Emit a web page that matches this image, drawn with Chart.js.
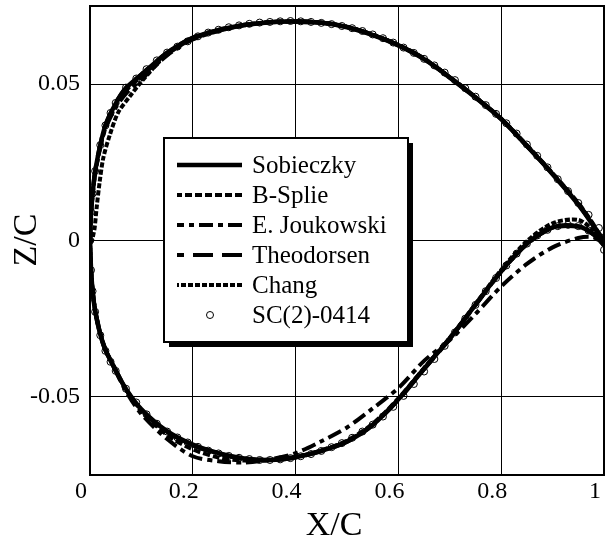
<!DOCTYPE html>
<html>
<head>
<meta charset="utf-8">
<script src="https://cdn.jsdelivr.net/npm/chart.js@4/dist/chart.umd.min.js"></script>
<style>
  body { margin: 0; background: #fff; }
  #box { width: 614px; height: 546px; }
</style>
</head>
<body>
<div id="box"><canvas id="perfil" width="614" height="546"></canvas></div>
<script>
// Estações em X/C (extradorso do bordo de fuga ao de ataque, intradorso no sentido inverso)
const stationsUpper = [1, 0.98, 0.95, 0.9, 0.85, 0.8, 0.75, 0.7, 0.65, 0.6, 0.55, 0.5, 0.45, 0.4, 0.35, 0.3, 0.25, 0.2, 0.15, 0.1, 0.07, 0.05, 0.03, 0.02, 0.01, 0.005, 0.002, 0];
const stationsLower = [0, 0.002, 0.005, 0.01, 0.02, 0.03, 0.05, 0.07, 0.1, 0.15, 0.2, 0.25, 0.3, 0.35, 0.4, 0.45, 0.5, 0.55, 0.6, 0.65, 0.7, 0.75, 0.8, 0.85, 0.9, 0.95, 0.98, 1];
const changStationsUpper = [1, 0.98, 0.95, 0.9, 0.85, 0.8, 0.75, 0.7, 0.65, 0.6, 0.55, 0.5, 0.45, 0.4, 0.35, 0.3, 0.25, 0.2, 0.15, 0.1, 0.078, 0.055, 0.039, 0.026, 0.019, 0.013, 0.009, 0.006, 0.004];

// Z/C de cada método
const sobieczkyUpper = [-0.001, 0.0045, 0.0115, 0.0212, 0.0302, 0.0388, 0.0457, 0.0521, 0.0580, 0.0624, 0.0657, 0.0682, 0.0696, 0.0700, 0.0698, 0.0689, 0.0673, 0.0648, 0.0600, 0.0530, 0.0487, 0.0438, 0.0368, 0.0305, 0.0220, 0.0148, 0.0088, 0];
const sobieczkyLower = [0, -0.009, -0.016, -0.0225, -0.030, -0.035, -0.0415, -0.0475, -0.0540, -0.0610, -0.0653, -0.0680, -0.0697, -0.0702, -0.0693, -0.0673, -0.0643, -0.0590, -0.0508, -0.0410, -0.0313, -0.0205, -0.0098, -0.0010, 0.0042, 0.0045, 0.0020, -0.0015];

const bSplieUpper = [-0.001, 0.005, 0.012, 0.0215, 0.0305, 0.039, 0.0459, 0.0523, 0.0581, 0.0625, 0.0658, 0.0683, 0.0697, 0.0701, 0.0698, 0.0688, 0.0671, 0.0645, 0.0596, 0.0525, 0.0480, 0.0432, 0.0360, 0.0298, 0.0212, 0.0142, 0.0082, 0];
const bSplieLower = [0, -0.0088, -0.0158, -0.0222, -0.0297, -0.0348, -0.0414, -0.0476, -0.0545, -0.0622, -0.0668, -0.0694, -0.0704, -0.0703, -0.0692, -0.0671, -0.0640, -0.0586, -0.0505, -0.0408, -0.0312, -0.0206, -0.0100, -0.0012, 0.0041, 0.0046, 0.0022, -0.0015];

const joukowskiUpper = [0, 0.0048, 0.0118, 0.0214, 0.0303, 0.0389, 0.0458, 0.0522, 0.0582, 0.0626, 0.0659, 0.0684, 0.0697, 0.0701, 0.0698, 0.0688, 0.0670, 0.0643, 0.0592, 0.0515, 0.0470, 0.0425, 0.0358, 0.0300, 0.0215, 0.0145, 0.0085, 0];
const joukowskiLower = [0, -0.0085, -0.0155, -0.022, -0.0295, -0.0347, -0.0418, -0.0482, -0.0555, -0.0635, -0.0690, -0.0706, -0.0710, -0.0700, -0.0680, -0.0642, -0.0598, -0.0537, -0.0472, -0.0385, -0.0318, -0.0235, -0.0147, -0.0075, -0.0022, 0.0008, 0.0010, -0.0015];

const theodorsenUpper = [-0.0005, 0.0046, 0.0116, 0.0213, 0.0303, 0.0389, 0.0458, 0.0522, 0.0581, 0.0625, 0.0658, 0.0683, 0.0697, 0.0701, 0.0699, 0.0690, 0.0674, 0.0649, 0.0601, 0.0532, 0.0489, 0.0440, 0.0370, 0.0308, 0.0224, 0.0152, 0.0090, 0];
const theodorsenLower = [0, -0.0092, -0.0162, -0.0227, -0.0302, -0.0352, -0.0417, -0.0477, -0.0542, -0.0612, -0.0655, -0.0682, -0.0699, -0.0703, -0.0694, -0.0674, -0.0644, -0.0591, -0.0510, -0.0412, -0.0315, -0.0207, -0.0100, -0.0012, 0.0040, 0.0044, 0.0018, -0.0015];

const changUpper = [-0.0005, 0.0047, 0.0117, 0.0213, 0.0302, 0.0388, 0.0457, 0.0521, 0.0580, 0.0624, 0.0658, 0.0683, 0.0697, 0.0700, 0.0698, 0.0689, 0.0672, 0.0646, 0.0596, 0.0508, 0.0462, 0.0410, 0.0340, 0.0265, 0.0190, 0.0106, 0.0040, 0.0015, 0];
const changLower = [0, -0.009, -0.0158, -0.0224, -0.0299, -0.0349, -0.0415, -0.0476, -0.0541, -0.0611, -0.0654, -0.0681, -0.0697, -0.0701, -0.0692, -0.0672, -0.0642, -0.0589, -0.0507, -0.0409, -0.0311, -0.0203, -0.0094, -0.0002, 0.0055, 0.0066, 0.0030, -0.0015];

// Pontos medidos do SC(2)-0414
const scX = [0, 0.002, 0.005, 0.01, 0.02, 0.03, 0.04, 0.05, 0.07, 0.09, 0.11, 0.13, 0.15, 0.17, 0.19, 0.21, 0.23, 0.25, 0.27, 0.29, 0.31, 0.33, 0.35, 0.37, 0.39, 0.41, 0.43, 0.45, 0.47, 0.49, 0.51, 0.53, 0.55, 0.57, 0.59, 0.61, 0.63, 0.65, 0.67, 0.69, 0.71, 0.73, 0.75, 0.77, 0.79, 0.81, 0.83, 0.85, 0.87, 0.89, 0.91, 0.93, 0.95, 0.97, 0.99, 1.0];
const scUpper = [0, 0.0092, 0.0150, 0.0222, 0.0305, 0.0368, 0.0408, 0.0440, 0.0489, 0.0518, 0.0548, 0.0576, 0.0601, 0.0620, 0.0637, 0.0653, 0.0665, 0.0674, 0.0682, 0.0688, 0.0693, 0.0697, 0.0699, 0.0701, 0.0702, 0.0701, 0.0699, 0.0696, 0.0692, 0.0686, 0.0679, 0.0670, 0.0659, 0.0647, 0.0633, 0.0617, 0.0600, 0.0581, 0.0560, 0.0537, 0.0513, 0.0487, 0.0460, 0.0433, 0.0405, 0.0375, 0.0342, 0.0307, 0.0271, 0.0234, 0.0196, 0.0158, 0.0120, 0.0082, 0.0040, 0.0010];
const scLower = [0, -0.0095, -0.0162, -0.0228, -0.0303, -0.0353, -0.0388, -0.0417, -0.0474, -0.0518, -0.0556, -0.0586, -0.0611, -0.0630, -0.0646, -0.0660, -0.0672, -0.0681, -0.0689, -0.0695, -0.0699, -0.0702, -0.0702, -0.0700, -0.0696, -0.0690, -0.0683, -0.0673, -0.0661, -0.0648, -0.0631, -0.0611, -0.0589, -0.0563, -0.0532, -0.0497, -0.0459, -0.0419, -0.0379, -0.0337, -0.0294, -0.0250, -0.0206, -0.0162, -0.0120, -0.0080, -0.0042, -0.0010, 0.0016, 0.0034, 0.0046, 0.0050, 0.0046, 0.0032, 0.0008, -0.0030];

const xTicks = [0, 0.2, 0.4, 0.6, 0.8, 1];
const yTicks = [-0.05, 0, 0.05];
const xTitle = 'X/C';
const yTitle = 'Z/C';

const fonte = 'Liberation Serif, Times New Roman, serif';

// Monta o contorno: extradorso e depois intradorso
function contorno(xu, yu, xl, yl) {
  const pts = xu.map((x, i) => ({ x: x, y: yu[i] }));
  return pts.concat(xl.map((x, i) => ({ x: x, y: yl[i] })));
}

function linha(label, data, dash, largura) {
  return {
    label: label,
    data: data,
    showLine: true,
    borderColor: '#000',
    backgroundColor: '#000',
    borderWidth: largura,
    borderDash: dash,
    pointRadius: 0,
    tension: 0.3,
  };
}

const datasets = [
  linha('Sobieczky', contorno(stationsUpper, sobieczkyUpper, stationsLower, sobieczkyLower), [], 4.5),
  linha('B-Splie', contorno(stationsUpper, bSplieUpper, stationsLower, bSplieLower), [7, 3], 4),
  linha('E. Joukowski', contorno(stationsUpper, joukowskiUpper, stationsLower, joukowskiLower), [14, 5, 5, 5], 4),
  linha('Theodorsen', contorno(stationsUpper, theodorsenUpper, stationsLower, theodorsenLower), [20, 9], 4),
  linha('Chang', contorno(changStationsUpper, changUpper, stationsLower, changLower), [5, 2], 4),
  {
    label: 'SC(2)-0414',
    data: contorno(scX, scUpper, scX, scLower),
    showLine: false,
    borderColor: '#000',
    backgroundColor: 'rgba(0,0,0,0)',
    borderWidth: 1,
    pointRadius: 3.5,
    pointStyle: 'circle',
  },
];

// Moldura, títulos dos eixos e legenda com sombra
const moldura = {
  id: 'moldura',
  afterDatasetsDraw(chart) {
    const ctx = chart.ctx;
    const a = chart.chartArea;
    ctx.save();

    ctx.strokeStyle = '#000';
    ctx.lineWidth = 2;
    ctx.strokeRect(a.left, a.top, a.right - a.left, a.bottom - a.top);

    // legenda
    const L = 164, T = 138, W = 244, H = 204;
    ctx.fillStyle = '#000';
    ctx.fillRect(L + 5, T + 5, W, H);
    ctx.fillStyle = '#fff';
    ctx.fillRect(L, T, W, H);
    ctx.lineWidth = 2;
    ctx.strokeRect(L, T, W, H);

    ctx.font = '25px ' + fonte;
    ctx.textBaseline = 'middle';
    ctx.textAlign = 'left';
    chart.data.datasets.forEach((ds, i) => {
      const y = 165 + i * 30;
      ctx.strokeStyle = '#000';
      if (ds.showLine) {
        ctx.lineWidth = ds.borderWidth;
        ctx.setLineDash(ds.borderDash);
        ctx.beginPath();
        ctx.moveTo(242, y);
        ctx.lineTo(177, y);
        ctx.stroke();
        ctx.setLineDash([]);
      } else {
        ctx.lineWidth = 1;
        ctx.beginPath();
        ctx.arc(210, y, 3.5, 0, Math.PI * 2);
        ctx.stroke();
      }
      ctx.fillStyle = '#000';
      ctx.fillText(ds.label, 252, y + 1);
    });

    // títulos
    ctx.font = '34px ' + fonte;
    ctx.textAlign = 'center';
    ctx.fillText(xTitle, 334, 526);
    ctx.translate(27, 240);
    ctx.rotate(-Math.PI / 2);
    ctx.fillText(yTitle, 0, 0);
    ctx.restore();
  }
};

const ctx = document.getElementById('perfil').getContext('2d');
new Chart(ctx, {
  type: 'scatter',
  data: { datasets: datasets },
  options: {
    responsive: false,
    animation: false,
    layout: { padding: { left: 0, right: 10, top: 6, bottom: 0 } },
    plugins: { legend: { display: false }, tooltip: { enabled: false } },
    scales: {
      x: {
        type: 'linear',
        min: 0,
        max: 1,
        afterBuildTicks: (s) => { s.ticks = xTicks.map(v => ({ value: v })); },
        afterFit: (s) => { s.height = 71; s.paddingLeft = 0; s.paddingRight = 0; },
        grid: { color: '#000', lineWidth: 1, drawTicks: false },
        border: { display: false },
        ticks: {
          color: '#000',
          font: { family: fonte, size: 24 },
          padding: 2,
          labelOffset: -9,
          maxRotation: 0,
          callback: (v) => String(v),
        },
      },
      y: {
        type: 'linear',
        min: -0.075,
        max: 0.075,
        afterBuildTicks: (s) => { s.ticks = yTicks.map(v => ({ value: v })); },
        afterFit: (s) => { s.width = 90; s.paddingTop = 0; s.paddingBottom = 0; },
        grid: { color: '#000', lineWidth: 1, drawTicks: false },
        border: { display: false },
        ticks: {
          color: '#000',
          font: { family: fonte, size: 24 },
          padding: 10,
          callback: (v) => String(v),
        },
      },
    },
  },
  plugins: [moldura],
});
</script>
</body>
</html>
